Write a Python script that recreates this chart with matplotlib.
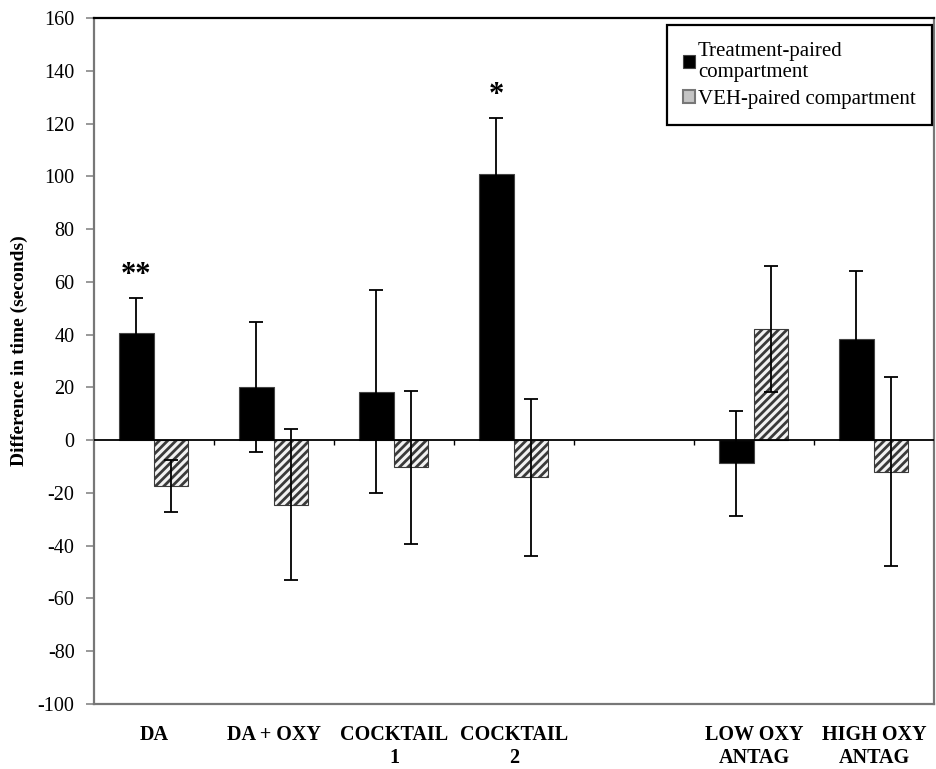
import numpy as np
import matplotlib.pyplot as plt

plt.rcParams["font.family"] = ["Liberation Serif", "DejaVu Serif"]
plt.rcParams["axes.unicode_minus"] = False
plt.rcParams["hatch.linewidth"] = 2.0

categories = ["DA", "DA + OXY", "COCKTAIL\n1", "COCKTAIL\n2", "",
              "LOW OXY\nANTAG", "HIGH OXY\nANTAG"]
treatment = [40.6, 20.2, 18.3, 100.7, np.nan, -8.8, 38.5]
treatment_err = [13.4, 24.6, 38.5, 21.4, np.nan, 19.8, 25.6]
veh = [-17.4, -24.4, -10.3, -14.1, np.nan, 42.1, -12.0]
veh_err = [10.0, 28.5, 29.0, 29.7, np.nan, 24.0, 35.8]
stars = ["**", "", "", "*", "", "", ""]

x = np.arange(len(categories))
w = 0.29

fig = plt.figure(figsize=(9.36, 7.69), dpi=100)
ax = fig.add_axes([0.1004, 0.0845, 0.8974, 0.8921])

err_kw = dict(ecolor="black", elinewidth=1.3, capsize=5, capthick=1.3)
ax.bar(x - 0.148, treatment, w, yerr=treatment_err, color="black",
       edgecolor="#444444", linewidth=0.8, error_kw=err_kw,
       label="Treatment-paired\ncompartment", zorder=2)
ax.bar(x + 0.142, veh, w, yerr=veh_err, color="#f2f2f2", hatch="////",
       edgecolor="#3a3a3a", linewidth=0.8, error_kw=err_kw,
       label="VEH-paired compartment", zorder=2)

for i, s in enumerate(stars):
    if s:
        ax.text(x[i] - 0.148, treatment[i] + treatment_err[i] + 3, s,
                ha="center", va="bottom", fontsize=22, fontweight="bold")

# zero line with small ticks between groups
ax.axhline(0, color="black", linewidth=1.3, zorder=3)
ax.vlines(x[:-1] + 0.5, -1.8, 0, color="black", linewidth=1.0, zorder=3)

ax.set_xlim(-0.5, len(categories) - 0.5)
ax.set_ylim(-100, 160)
ax.set_yticks(np.arange(-100, 161, 20))
ax.set_xticks(x)
ax.set_xticklabels(categories, fontweight="bold", fontsize=14.5,
                   linespacing=1.2)
ax.tick_params(axis="x", length=0, pad=15)
ax.tick_params(axis="y", direction="out", length=6, width=1.2,
               color="#888888", labelsize=14.5, pad=8)
ax.set_ylabel("Difference in time (seconds)", fontweight="bold",
              fontsize=14)
ax.yaxis.set_label_coords(-0.078, 0.515)

for side in ["left", "right", "bottom"]:
    ax.spines[side].set_color("#777777")
    ax.spines[side].set_linewidth(1.6)
ax.spines["top"].set_color("black")
ax.spines["top"].set_linewidth(1.6)

leg = ax.legend(loc="upper right", bbox_to_anchor=(0.998, 0.99),
                borderaxespad=0, fontsize=15, fancybox=False,
                framealpha=1, edgecolor="black", handlelength=0.55,
                handleheight=0.6, handletextpad=0.15, borderpad=0.8,
                labelspacing=0.35)
leg.get_frame().set_linewidth(1.6)
veh_handle = leg.legend_handles[1]
veh_handle.set_hatch("")
veh_handle.set_facecolor("#c4c4c4")
veh_handle.set_edgecolor("#777777")
veh_handle.set_linewidth(1.5)

plt.savefig("out.png", dpi=100)
